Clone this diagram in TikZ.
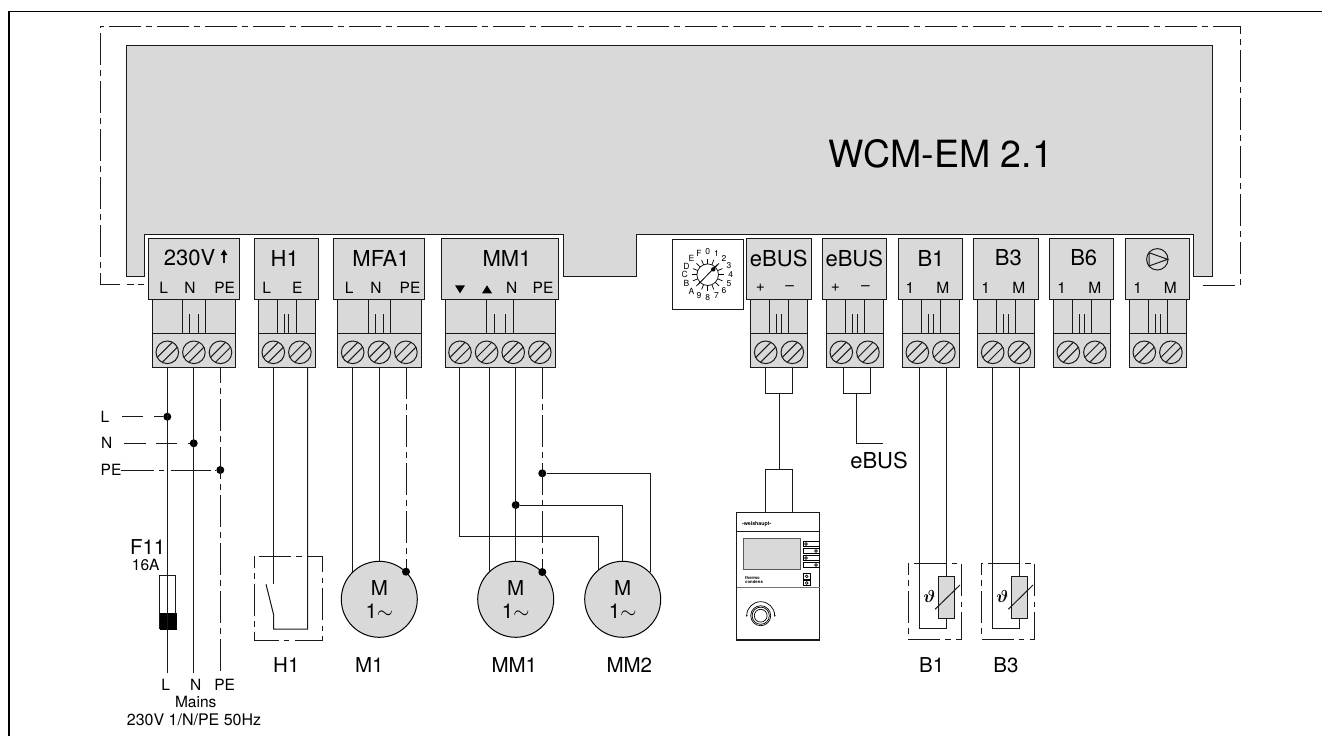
\documentclass[tikz,border=0pt]{standalone}
\usepackage{fontspec}
\setmainfont{TeX Gyre Heros}
\usetikzlibrary{calc}
\definecolor{boxgray}{HTML}{D9D9D9}
\tikzset{
	wire/.style={line width=1pt, color=black!90},
	earth/.style={wire, dash pattern=on 32pt off 5pt on 5.5pt off 5.5pt},
	frameline/.style={earth},
	titletext/.style={inner sep=0pt, font=\fontsize{22}{22}\selectfont},
	pintext/.style={inner sep=0pt, font=\fontsize{15.5}{15.5}\selectfont},
	nametext/.style={inner sep=0pt, font=\fontsize{20.5}{20.5}\selectfont},
	dialtext/.style={inner sep=0pt, font=\fontsize{8.5}{8.5}\selectfont},
	junction/.style={circle, fill=black, inner sep=0pt, minimum size=8pt},
	motor/.style={circle, draw, line width=1pt, fill=boxgray, inner sep=0pt, minimum size=76pt, align=center, font=\fontsize{20.5}{22.7}\selectfont}
}
% left edge, width, screws, then the two long and two short strokes (offsets from the left edge)
\def\termblock#1#2#3#4#5#6#7{
	\draw[wire, fill=boxgray] (#1-4, 238.7) rectangle (#1+#2+3.6, 299.3);
	\draw[wire, fill=boxgray] (#1, 299.3) rectangle (#1+#2, 367);
	\draw[wire] (#1, 333.3) -- (#1+#2, 333.3);
	\draw[wire] (#1+#4, 299.3) -- (#1+#4, 333.3);
	\draw[wire] (#1+#5, 299.3) -- (#1+#5, 333.3);
	\draw[wire] (#1+#6, 314.3) -- (#1+#6, 333.3);
	\draw[wire] (#1+#7, 314.3) -- (#1+#7, 333.3);
	\foreach \s in {1,...,#3}{
		\pgfmathsetmacro\sx{#1+15+(\s-1)*26.6}
		\draw[wire] (\sx, 352.3) circle (11.3);
		\draw[wire] (\sx, 352.3) ++(10.07, -5.13) -- ++(-15.2, 15.2);
		\draw[wire] (\sx, 352.3) ++(5.13, -10.07) -- ++(-15.2, 15.2);
	}
}
\begin{document}
\begin{tikzpicture}[x=1pt, y=-1pt]
	%%%%% START %%%%%
	\useasboundingbox (0, 0) rectangle (1322, 736);

	\draw[line width=1.6pt] (9, 736) |- (1322, 11.5);

	\draw[frameline, dash phase=39pt] (100, 26.3) -- (1240, 26.3);
	\draw[frameline, dash phase=41.3pt] (100, 26.3) -- (100, 284);
	\draw[frameline, dash phase=24.3pt] (1240, 26.3) -- (1240, 285);
	\draw[wire, dash pattern=on 20pt off 6.7pt on 7.3pt off 3.7pt on 6.3pt] (100, 284) -- (144, 284);
	\draw[wire] (1203.3, 285) -- (1235, 285);

	\draw[wire, fill=boxgray] (126, 45) -- (1212.3, 45) -- (1212.3, 276) -- (1193.3, 276) -- (1193.3, 234.7) -- (636.7, 234.7) -- (636.7, 276) -- (563.3, 276) -- (563.3, 234.7) -- (144.3, 234.7) -- (144.3, 276) -- (126, 276) -- cycle;
	\node[inner sep=0pt, font=\fontsize{37.5}{37.5}\selectfont] (wcm) at (941, 154) {WCM-EM 2.1};

	%%%%% TERMINALS %%%%%
	\termblock{152.3}{83.4}{3}{30.4}{53}{37}{45.7}
	\termblock{258.3}{57}{2}{19}{38}{25.7}{30.4}
	\termblock{337.7}{83.6}{3}{30.3}{53}{37.6}{45.6}
	\termblock{445}{110}{4}{41.7}{68.3}{49.3}{60.7}
	\termblock{750.7}{57}{2}{18.7}{37.7}{25.7}{30.7}
	\termblock{826.3}{57}{2}{18.7}{37.7}{25.7}{30.7}
	\termblock{902.3}{57}{2}{18.7}{37.7}{25.7}{30.7}
	\termblock{977.7}{57}{2}{18.7}{37.7}{25.7}{30.7}
	\termblock{1053.3}{57}{2}{18.7}{37.7}{25.7}{30.7}
	\termblock{1129.3}{57}{2}{18.7}{37.7}{25.7}{30.7}

	\node[titletext] (mainsTitle) at (189.5, 258) {230V};
	\draw[wire, line width=1.2pt] (224, 263) -- (224, 252);
	\fill (224, 249.5) -- (227.3, 255) -- (220.7, 255) -- cycle;
	\node[titletext] (hOneTitle) at (284.7, 258) {H1};
	\node[titletext] (mfaTitle) at (381, 258) {MFA1};
	\node[titletext] (mmTitle) at (507, 258) {MM1};
	\node[titletext] (busOneTitle) at (778.7, 258) {eBUS};
	\node[titletext] (busTwoTitle) at (854.3, 258) {eBUS};
	\node[titletext] (bOneTitle) at (931, 258) {B1};
	\node[titletext] (bThreeTitle) at (1008.3, 258) {B3};
	\node[titletext] (bSixTitle) at (1083.7, 258) {B6};

	\draw[wire] (1157.3, 259.3) circle (10.7);
	\draw[wire] (1149, 252.7) -- (1167.7, 259.3) -- (1149, 266) -- cycle;

	\node[pintext] (mainsL) at (163.7, 288) {L};
	\node[pintext] (mainsN) at (190, 288) {N};
	\node[pintext] (mainsPE) at (224.7, 288) {PE};
	\node[pintext] (hOneL) at (266.7, 288) {L};
	\node[pintext] (hOneE) at (297.3, 288) {E};
	\node[pintext] (mfaL) at (349.3, 288) {L};
	\node[pintext] (mfaN) at (376, 288) {N};
	\node[pintext] (mfaPE) at (410, 288) {PE};
	\fill (455, 285.3) -- (465, 285.3) -- (460, 293.3) -- cycle;
	\fill (482, 293.3) -- (492, 293.3) -- (487, 285.3) -- cycle;
	\node[pintext] (mmN) at (511.7, 288) {N};
	\node[pintext] (mmPE) at (543, 288) {PE};
	\node[pintext] (busOnePlus) at (760.3, 288) {+};
	\node[pintext] (busOneMinus) at (789.7, 288) {--};
	\node[pintext] (busTwoPlus) at (835.5, 288) {+};
	\node[pintext] (busTwoMinus) at (865.5, 288) {--};
	\node[pintext] (bOnePin) at (910, 288) {1};
	\node[pintext] (bOneM) at (942.7, 288) {M};
	\node[pintext] (bThreePin) at (985.7, 288) {1};
	\node[pintext] (bThreeM) at (1018.7, 288) {M};
	\node[pintext] (bSixPin) at (1061.7, 288) {1};
	\node[pintext] (bSixM) at (1094.7, 288) {M};
	\node[pintext] (pumpPin) at (1137.7, 288) {1};
	\node[pintext] (pumpM) at (1170.3, 288) {M};

	%%%%% DIAL %%%%%
	\draw[wire] (672.3, 239.3) rectangle (743.3, 309.7);
	\coordinate (dial) at (707.7, 274.7);
	\draw[wire, line width=0.8pt] (dial) circle (10.8);
	\foreach \i/\t in {0/0,1/1,2/2,3/3,4/4,5/5,6/6,7/7,8/8,9/9,10/A,11/B,12/C,13/D,14/E,15/F}{
		\draw[line width=0.7pt] ($(dial)+({-90+22.5*\i}:10.8)$) -- ($(dial)+({-90+22.5*\i}:16)$);
		\node[dialtext] (dialmark\i) at ($(dial)+({-90+22.5*\i}:23)$) {\t};
	}
	\draw[line width=0.8pt] (698.3, 284.3) -- (717.3, 264.7);
	\fill (713.3, 269.3) circle (2.2);

	%%%%% LOADS %%%%%
	\node[motor] (mOne) at (379.3, 599.3) {M\\1$\sim$};
	\node[motor] (mmOne) at (515.7, 599.3) {M\\1$\sim$};
	\node[motor] (mmTwo) at (622.7, 599.3) {M\\1$\sim$};

	\node[nametext] (hOneName) at (286.3, 665) {H1};
	\node[nametext] (mOneName) at (369.3, 665) {M1};
	\node[nametext] (mmOneName) at (514.3, 665) {MM1};
	\node[nametext] (mmTwoName) at (629.3, 665) {MM2};
	\node[nametext] (bOneName) at (931.7, 665) {B1};
	\node[nametext] (bThreeName) at (1006, 665) {B3};

	%%%%% MAINS %%%%%
	\coordinate (lTop) at (167.3, 367);
	\coordinate (nTop) at (193.7, 367);
	\coordinate (peTop) at (220.3, 367);
	\coordinate (lEnd) at (167.3, 673.3);
	\coordinate (nEnd) at (193.7, 673.3);
	\coordinate (peEnd) at (220.3, 673.3);
	\coordinate (lBus) at (122.3, 416.7);
	\coordinate (nBus) at (124, 443.3);
	\coordinate (peBus) at (120.7, 470);
	\node[junction] (lDot) at (167.3, 416.7) {};
	\node[junction] (nDot) at (193.7, 443.3) {};
	\node[junction] (peDot) at (220.3, 470) {};
	\node[pintext] (busL) at (105, 416.7) {L};
	\node[pintext] (busN) at (106.7, 443.3) {N};
	\node[pintext] (busPE) at (111, 470) {PE};
	\draw[wire, dash pattern=on 21pt off 11pt on 13pt] (lBus) -- (lDot);
	\draw[wire, dash pattern=on 22pt off 10pt on 21pt off 11pt] (nBus) -- (nDot);
	\draw[wire, dash pattern=on 33pt off 5pt on 5pt off 7pt on 40pt off 4pt on 4pt] (peBus) -- (peDot);

	\draw[wire, fill=white] (159.7, 575) rectangle (175.7, 628.7);
	\draw[fill=black] (159.7, 612.7) rectangle (175.7, 628.7);
	\draw[wire] (lTop) -- (lEnd);
	\draw[wire] (nTop) -- (nEnd);
	\draw[earth, dash phase=16pt] (peTop) -- (peEnd);
	\node[nametext] (fuseName) at (147.7, 546.7) {F11};
	\node[pintext] (fuseValue) at (145.7, 565) {16A};
	\node[pintext] (endL) at (165.7, 685) {L};
	\node[pintext] (endN) at (195.7, 685) {N};
	\node[pintext] (endPE) at (224.7, 685) {PE};
	\node[pintext] (mainsName) at (195.7, 702) {Mains};
	\node[pintext, font=\fontsize{16}{16}\selectfont] (mainsData) at (194, 720) {230V 1/N/PE 50Hz};

	%%%%% H1 %%%%%
	\draw[earth, dash phase=20pt] (254.3, 556.3) rectangle (322.7, 640);
	\coordinate (hOneTop) at (273.3, 367);
	\coordinate (hOneFix) at (273.3, 584.3);
	\coordinate (hOneRet) at (307.7, 367);
	\draw[wire] (hOneTop) -- (hOneFix);
	\draw[wire] (hOneRet) -- (307.7, 629) -- (273.7, 629) -- (273.7, 615) -- (266, 584.3);

	%%%%% M1, MM1, MM2 %%%%%
	\coordinate (mOneA) at (352.7, 367);
	\coordinate (mOneB) at (379.3, 367);
	\coordinate (mOneC) at (406, 367);
	\node[junction] (mOneDot) at (406, 571.7) {};
	\draw[wire] (mOneA) -- (mOneA |- mOne.135);
	\draw[wire] (mOneB) -- (mOne.north);
	\draw[earth] (mOneC) -- (mOneDot);

	\coordinate (mmA) at (459.7, 367);
	\coordinate (mmB) at (489.3, 367);
	\coordinate (mmC) at (515.7, 367);
	\coordinate (mmD) at (542.3, 367);
	\coordinate (mmTurn) at (598.3, 536);
	\node[junction] (mmDotN) at (515.7, 505) {};
	\node[junction] (mmDotPE) at (542.3, 473.3) {};
	\node[junction] (mmOneDot) at (542.3, 572) {};
	\draw[wire] (mmA) |- (mmTurn) -- (mmTurn |- mmTwo.130);
	\draw[wire] (mmB) -- (mmB |- mmOne.135);
	\draw[wire] (mmC) -- (mmOne.north);
	\draw[earth] (mmD) -- (mmOneDot);
	\draw[wire] (mmDotN) -| (mmTwo.north);
	\draw[wire] (mmDotPE) -| (650.3, 572);

	%%%%% CONTROL UNIT %%%%%
	\coordinate (busOneA) at (765.7, 367);
	\coordinate (busOneB) at (792.3, 367);
	\coordinate (busOneMid) at (779, 393.7);
	\coordinate (unitTop) at (779, 469.3);
	\draw[wire] (busOneA) |- (busOneB |- busOneMid) -- (busOneB);
	\draw[wire] (busOneMid) -- (unitTop);
	\draw[wire] (765.7, 512.7) |- (792.3, 469.3) -- (792.3, 512.7);

	\draw[wire, line width=1.2pt] (736.7, 512.7) rectangle (819.7, 640);
	\draw[wire] (736.7, 531) -- (819.7, 531);
	\draw[wire, color=black!55] (736.7, 587.7) -- (819.7, 587.7);
	\node[inner sep=0pt, font=\bfseries\fontsize{5.3}{5.3}\selectfont] (brand) at (756.7, 524.3) {-weishaupt-};
	\draw[wire, color=black!65, fill=boxgray] (743.3, 538) rectangle (800.3, 569.3);
	\foreach \y/\cx in {544/806, 551/816, 558/806, 565/816}{
		\draw[line width=0.7pt] (819.7, \y-2.3) -- (803, \y-2.3) -- (803, \y+2.3) -- (819.7, \y+2.3);
		\draw[line width=0.6pt] (\cx, \y) circle (1.4);
	}
	\node[inner sep=0pt, anchor=west, font=\bfseries\fontsize{4.3}{4.3}\selectfont] (modelA) at (745, 578.3) {thermo};
	\node[inner sep=0pt, anchor=west, font=\bfseries\fontsize{4.3}{4.3}\selectfont] (modelB) at (745, 582.3) {condens};
	\foreach \y in {576.3, 583}{
		\draw[line width=0.8pt] (803.2, \y-2.6) rectangle (810.2, \y+2.6);
		\draw[line width=0.6pt] (806.7, \y) circle (1.4);
	}
	\draw[line width=0.7pt] (760.7, 615.7) circle (10);
	\draw[line width=0.7pt] (760.7, 615.7) circle (8.6);
	\draw[line width=0.7pt] (760.7, 615.7) circle (6.4);
	\draw[line width=0.7pt] (746.7, 615.7) arc (180:360:14);
	\fill (746.7, 615.7) circle (0.9);
	\fill (774.7, 615.7) circle (0.9);

	%%%%% EBUS OUT %%%%%
	\coordinate (busTwoA) at (843.3, 367);
	\coordinate (busTwoB) at (870, 367);
	\coordinate (busTwoMid) at (856.3, 393.7);
	\coordinate (busTwoEnd) at (882.7, 443);
	\draw[wire] (busTwoA) |- (busTwoB |- busTwoMid) -- (busTwoB);
	\draw[wire] (busTwoMid) |- (busTwoEnd);
	\node[titletext] (busOutName) at (879, 460.7) {eBUS};

	%%%%% SENSORS %%%%%
	\draw[earth, dash phase=20pt] (908, 563.3) rectangle (961.3, 639);
	\draw[wire, fill=boxgray] (938.3, 576.7) rectangle (954, 618.7);
	\coordinate (bOneA) at (919.7, 367);
	\coordinate (bOneB) at (946, 367);
	\draw[wire] (bOneB) -- (946, 576.7);
	\draw[wire] (946, 618.7) |- (919.7, 628) -- (bOneA);
	\draw[wire] (935, 609.3) -- (960, 585);
	\node[inner sep=0pt, font=\fontsize{17}{17}\selectfont\boldmath] (bOneSign) at (929.3, 596.7) {$\vartheta$};

	\draw[earth, dash phase=20pt] (981.3, 563.3) rectangle (1034.7, 639);
	\draw[wire, fill=boxgray] (1011.7, 576.7) rectangle (1027.3, 618.7);
	\coordinate (bThreeA) at (992.7, 367);
	\coordinate (bThreeB) at (1019.3, 367);
	\draw[wire] (bThreeB) -- (1019.3, 576.7);
	\draw[wire] (1019.3, 618.7) |- (992.7, 628) -- (bThreeA);
	\draw[wire] (1008.3, 609.3) -- (1033, 585);
	\node[inner sep=0pt, font=\fontsize{17}{17}\selectfont\boldmath] (bThreeSign) at (1002.3, 596.7) {$\vartheta$};
	%%%%% END %%%%%
\end{tikzpicture}
\end{document}
